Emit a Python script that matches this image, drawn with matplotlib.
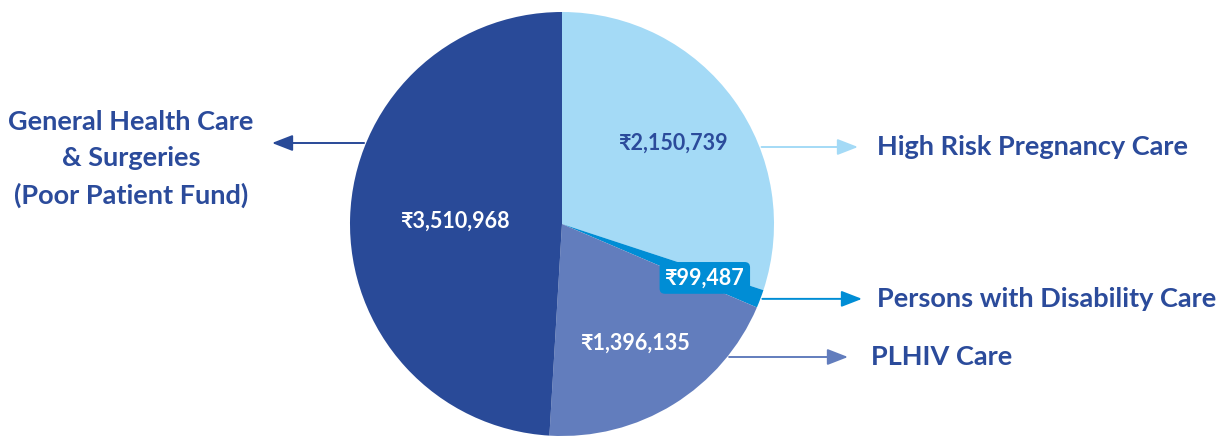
import matplotlib.pyplot as plt
import numpy as np

plt.rcParams['font.family'] = ['Lato', 'DejaVu Sans']

# fund allocation, clockwise from 12 o'clock
categories = ['High Risk Pregnancy Care', 'Persons with Disability Care',
              'PLHIV Care', 'General Health Care\n& Surgeries\n(Poor Patient Fund)']
amounts = [2150739, 99487, 1396135, 3510968]
colors = ['#A4DAF6', '#008DD5', '#627DBD', '#294A98']
text_color = '#2B4B9B'
value_colors = [text_color, 'white', 'white', 'white']

W, H = 1227, 437
cx, cy, R = 562, H - 224, 212

fig = plt.figure(figsize=(W / 100, H / 100), dpi=100)
ax = fig.add_axes([0, 0, 1, 1])

wedges, _ = ax.pie(amounts, colors=colors, startangle=90, counterclock=False,
                   center=(cx, cy), radius=R, wedgeprops=dict(linewidth=0))
ax.set_xlim(0, W)
ax.set_ylim(0, H)
ax.set_aspect('equal')
ax.axis('off')

# amount labels inside the slices
rfac = [0.65, 0.72, 0.66, 0.5]
for w, amt, f, tc in zip(wedges, amounts, rfac, value_colors):
    mid = np.radians((w.theta1 + w.theta2) / 2)
    x = cx + f * R * np.cos(mid)
    y = cy + f * R * np.sin(mid)
    kw = {}
    if amt < 200000:
        kw['bbox'] = dict(boxstyle='round,pad=0.25', fc=w.get_facecolor(), ec='none')
    ax.text(x, y, f'₹{amt:,}', color=tc, fontsize=15.5, fontweight='bold',
            ha='center', va='center', **kw)


def edge_x(y, side=1):
    return cx + side * np.sqrt(R**2 - (y - cy)**2)


def arrow(x0, x1, y, c):
    ax.annotate('', xy=(x1, y), xytext=(x0, y),
                arrowprops=dict(arrowstyle='-|>,head_length=0.9,head_width=0.35',
                                mutation_scale=14, color=c, lw=1.4,
                                shrinkA=0, shrinkB=0))


# right side call-outs
dis_mid = np.radians((wedges[1].theta1 + wedges[1].theta2) / 2)
label_y = [H - 147, cy + R * np.sin(dis_mid), H - 357]
arrow_end = [858, 862, 848]
text_x = [877, 877, 871]
for i in range(3):
    y = label_y[i]
    arrow(edge_x(y) + 2, arrow_end[i], y, colors[i])
    ax.text(text_x[i], y, categories[i], color=text_color, fontsize=19.5,
            fontweight='bold', ha='left', va='center')

# left call-out
y = H - 143
arrow(edge_x(y, -1) - 2, 272, y, colors[3])
ax.text(131, H - 159, categories[3], color=text_color, fontsize=19.5,
        fontweight='bold', ha='center', va='center', linespacing=1.62)

fig.savefig('out.png', dpi=100)
